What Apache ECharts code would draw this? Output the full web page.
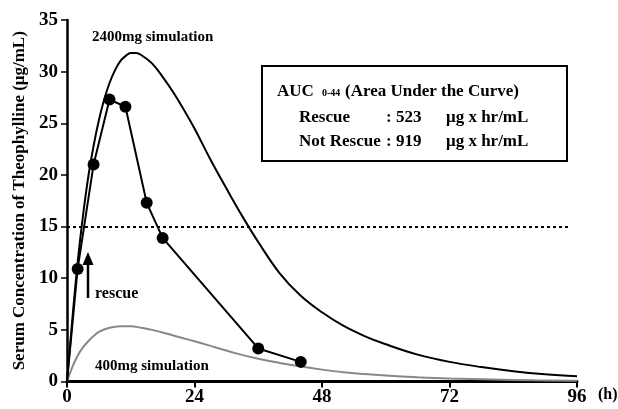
<!DOCTYPE html>
<html><head><meta charset="utf-8">
<script src="https://cdn.jsdelivr.net/npm/echarts@6/dist/echarts.min.js"></script>
<style>html,body{margin:0;padding:0;background:#fff}#c{width:618px;height:409px}</style>
</head><body><div id="c"></div>
<script>
// Hours / values
const rescueHours = [0, 2, 5, 8, 11, 15, 18, 36, 44];
const rescueValues = [0, 10.9, 21.0, 27.3, 26.6, 17.3, 13.9, 3.2, 1.9];
const sim2400Hours = [0,1,2,3,4,5,6,7,8,9,10,11,12,13,14,16,18,20,22,24,27,30,33,36,40,44,48,52,56,60,66,72,78,84,90,96];
const sim2400Values = [0,6,11.5,16,19.8,22.8,25.3,27.3,28.9,30.1,31,31.5,31.8,31.8,31.6,30.8,29.5,28,26.3,24.5,21.5,18.7,16,13.5,10.5,8.3,6.7,5.4,4.4,3.6,2.6,1.9,1.4,1.0,0.7,0.5];
const sim400Hours = [0,1,2,3,4,5,6,8,10,12,14,16,18,20,24,28,32,36,40,44,48,52,56,60,66,72,80,88,96];
const sim400Values = [0,1.4,2.5,3.3,3.9,4.4,4.8,5.2,5.35,5.35,5.2,5.0,4.75,4.45,3.9,3.3,2.7,2.2,1.8,1.45,1.15,0.9,0.72,0.58,0.42,0.3,0.2,0.12,0.08];
const xTicks = [0, 24, 48, 72, 96];
const yTicks = [0, 5, 10, 15, 20, 25, 30, 35];
const threshold = 15;

const zip = (a, b) => a.map((v, i) => [v, b[i]]);
const F = 'Liberation Serif, Times New Roman, serif';
const rescueData = rescueHours.map((h, i) => i === 0
  ? {value: [h, rescueValues[i]], symbol: 'none'}
  : {value: [h, rescueValues[i]]});
const chart = echarts.init(document.getElementById('c'), null, {renderer: 'canvas'});
chart.setOption({
  animation: false,
  grid: {left: 67, right: 41, top: 20, bottom: 27.5},
  xAxis: {
    type: 'value', min: 0, max: 96, interval: 24,
    axisLine: {onZero: false, lineStyle: {color: '#000', width: 3}},
    axisTick: {length: 6, lineStyle: {color: '#000', width: 2}},
    axisLabel: {color: '#000', fontFamily: F, fontWeight: 'bold', fontSize: 19, margin: 6,
      formatter: v => xTicks.includes(v) ? String(v) : ''},
    splitLine: {show: false}
  },
  yAxis: {
    type: 'value', min: 0, max: 35, interval: 5,
    name: 'Serum Concentration of Theophylline (\u03bcg/mL)',
    nameLocation: 'middle', nameGap: 39, nameRotate: 90,
    nameTextStyle: {color: '#000', fontFamily: F, fontWeight: 'bold', fontSize: 17},
    axisLine: {show: true, lineStyle: {color: '#000', width: 2.5}},
    axisTick: {show: true, length: 6, lineStyle: {color: '#000', width: 1.5}},
    axisLabel: {color: '#000', fontFamily: F, fontWeight: 'bold', fontSize: 19, margin: 9,
      formatter: v => yTicks.includes(v) ? String(v) : ''},
    splitLine: {show: false}
  },
  series: [
    {type: 'line', data: zip(sim400Hours, sim400Values), smooth: 0.4, symbol: 'none',
     lineStyle: {color: '#888', width: 2}, z: 2},
    {type: 'line', data: zip(sim2400Hours, sim2400Values), smooth: 0.4, symbol: 'none',
     lineStyle: {color: '#000', width: 2}, z: 3,
     markLine: {silent: true, symbol: 'none', label: {show: false},
       lineStyle: {color: '#000', type: [3, 3], width: 2},
       data: [[{coord: [0, threshold]}, {coord: [94.3, threshold]}]]}},
    {type: 'line', data: rescueData, symbol: 'circle', symbolSize: 12,
     showSymbol: true, itemStyle: {color: '#000'}, lineStyle: {color: '#000', width: 2}, z: 4}
  ],
  graphic: [
    {type: 'text', left: 92, top: 30, style: {text: '2400mg simulation', font: 'bold 15px ' + F, fill: '#000'}},
    {type: 'text', left: 95, top: 359, style: {text: '400mg simulation', font: 'bold 15px ' + F, fill: '#000'}},
    {type: 'text', left: 95, top: 286, style: {text: 'rescue', font: 'bold 16px ' + F, fill: '#000'}},
    {type: 'line', shape: {x1: 88, y1: 298, x2: 88, y2: 262}, style: {stroke: '#000', lineWidth: 2.5}},
    {type: 'polygon', shape: {points: [[82.5, 265], [93.5, 265], [88, 252]]}, style: {fill: '#000'}},
    {type: 'rect', shape: {x: 262, y: 66, width: 305, height: 95}, style: {fill: '#fff', stroke: '#000', lineWidth: 2}, z: 10},
    {type: 'text', left: 277, top: 83, z: 11, style: {text: 'AUC', font: 'bold 17px ' + F, fill: '#000'}},
    {type: 'text', left: 322, top: 88, z: 11, style: {text: '0-44', font: 'bold 10px ' + F, fill: '#000'}},
    {type: 'text', left: 345, top: 83, z: 11, style: {text: '(Area Under the Curve)', font: 'bold 17px ' + F, fill: '#000'}},
    {type: 'text', left: 299, top: 109, z: 11, style: {text: 'Rescue', font: 'bold 17px ' + F, fill: '#000'}},
    {type: 'text', left: 386, top: 109, z: 11, style: {text: ': 523', font: 'bold 17px ' + F, fill: '#000'}},
    {type: 'text', left: 446, top: 109, z: 11, style: {text: '\u03bcg x hr/mL', font: 'bold 17px ' + F, fill: '#000'}},
    {type: 'text', left: 299, top: 133, z: 11, style: {text: 'Not Rescue', font: 'bold 17px ' + F, fill: '#000'}},
    {type: 'text', left: 386, top: 133, z: 11, style: {text: ': 919', font: 'bold 17px ' + F, fill: '#000'}},
    {type: 'text', left: 446, top: 133, z: 11, style: {text: '\u03bcg x hr/mL', font: 'bold 17px ' + F, fill: '#000'}},
    {type: 'text', left: 598, top: 387, style: {text: '(h)', font: 'bold 16px ' + F, fill: '#000'}}
  ]
});
</script></body></html>
